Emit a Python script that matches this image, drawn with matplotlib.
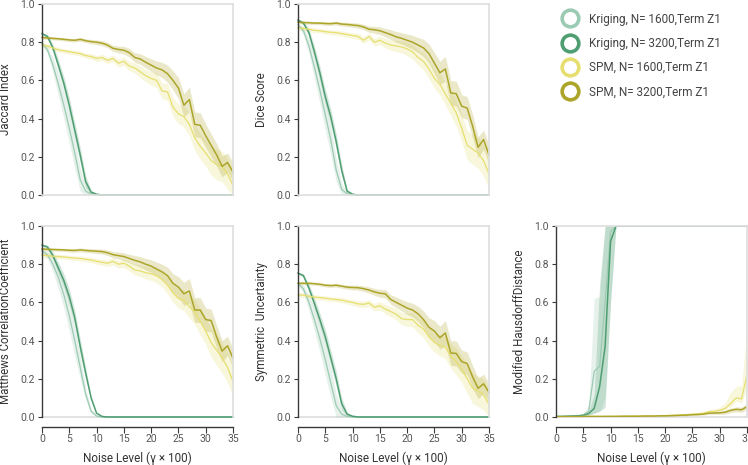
import numpy as np
import matplotlib
matplotlib.use("Agg")
import matplotlib.pyplot as plt
from matplotlib.lines import Line2D

plt.rcParams['font.family'] = ['Roboto', 'DejaVu Sans']

# Noise level (gamma x 100)
noise = np.arange(36)

# ---- Jaccard Index ----
jac_krig1600 = [0.795, 0.76, 0.68, 0.58, 0.47, 0.35, 0.22, 0.08, 0.02, 0.005] + [0.0] * 26
jac_krig3200 = [0.845, 0.83, 0.77, 0.68, 0.585, 0.47, 0.34, 0.21, 0.07, 0.015, 0.004] + [0.0] * 25
jac_spm1600 = [0.785, 0.78, 0.77, 0.76, 0.755, 0.75, 0.745, 0.74, 0.73, 0.725, 0.715, 0.72,
               0.705, 0.715, 0.69, 0.70, 0.675, 0.665, 0.645, 0.625, 0.61, 0.60, 0.545, 0.54,
               0.46, 0.425, 0.41, 0.37, 0.30, 0.255, 0.22, 0.18, 0.16, 0.15, 0.11, 0.05]
jac_spm3200 = [0.825, 0.822, 0.82, 0.818, 0.815, 0.812, 0.81, 0.815, 0.808, 0.803, 0.80, 0.795,
               0.785, 0.768, 0.762, 0.758, 0.745, 0.72, 0.712, 0.695, 0.68, 0.665, 0.655, 0.635,
               0.60, 0.56, 0.47, 0.50, 0.37, 0.365, 0.31, 0.26, 0.21, 0.15, 0.17, 0.12]

# ---- Dice Score ----
dice_krig1600 = [0.89, 0.86, 0.78, 0.67, 0.55, 0.42, 0.29, 0.13, 0.03, 0.006] + [0.0] * 26
dice_krig3200 = [0.916, 0.90, 0.85, 0.75, 0.64, 0.515, 0.41, 0.28, 0.13, 0.02, 0.004] + [0.0] * 25
dice_spm1600 = [0.876, 0.872, 0.868, 0.862, 0.86, 0.855, 0.852, 0.85, 0.845, 0.84, 0.835, 0.83,
                0.81, 0.83, 0.80, 0.81, 0.795, 0.785, 0.78, 0.775, 0.765, 0.75, 0.72, 0.70,
                0.66, 0.61, 0.58, 0.53, 0.48, 0.43, 0.35, 0.26, 0.24, 0.22, 0.18, 0.11]
dice_spm3200 = [0.905, 0.903, 0.902, 0.90, 0.90, 0.898, 0.897, 0.90, 0.895, 0.893, 0.89, 0.887,
                0.88, 0.868, 0.865, 0.86, 0.85, 0.84, 0.828, 0.82, 0.81, 0.80, 0.785, 0.77,
                0.74, 0.69, 0.64, 0.66, 0.535, 0.53, 0.465, 0.455, 0.36, 0.25, 0.29, 0.21]

# ---- Matthews Correlation Coefficient ----
mcc_krig1600 = [0.87, 0.85, 0.80, 0.73, 0.64, 0.53, 0.40, 0.26, 0.12, 0.03, 0.005] + [0.0] * 25
mcc_krig3200 = [0.90, 0.89, 0.845, 0.78, 0.715, 0.63, 0.52, 0.37, 0.23, 0.10, 0.02, 0.003] + [0.0] * 24
mcc_spm1600 = [0.848, 0.845, 0.842, 0.84, 0.838, 0.835, 0.832, 0.83, 0.826, 0.822, 0.815, 0.81,
               0.805, 0.815, 0.80, 0.805, 0.79, 0.77, 0.765, 0.755, 0.75, 0.74, 0.72, 0.69,
               0.65, 0.62, 0.612, 0.578, 0.55, 0.50, 0.45, 0.39, 0.35, 0.31, 0.26, 0.186]
mcc_spm3200 = [0.88, 0.878, 0.877, 0.876, 0.875, 0.873, 0.872, 0.875, 0.872, 0.87, 0.868, 0.866,
               0.86, 0.85, 0.845, 0.84, 0.83, 0.82, 0.812, 0.80, 0.79, 0.775, 0.76, 0.74,
               0.70, 0.68, 0.645, 0.66, 0.56, 0.56, 0.51, 0.505, 0.42, 0.345, 0.373, 0.308]

# ---- Symmetric Uncertainty ----
su_krig1600 = [0.70, 0.67, 0.60, 0.51, 0.41, 0.30, 0.18, 0.06, 0.015, 0.003] + [0.0] * 26
su_krig3200 = [0.753, 0.74, 0.675, 0.595, 0.51, 0.42, 0.31, 0.20, 0.07, 0.015, 0.004] + [0.0] * 25
su_spm1600 = [0.64, 0.638, 0.632, 0.628, 0.625, 0.622, 0.618, 0.615, 0.612, 0.605, 0.60, 0.592,
              0.59, 0.596, 0.575, 0.582, 0.565, 0.552, 0.538, 0.515, 0.51, 0.51, 0.48, 0.46,
              0.42, 0.39, 0.375, 0.365, 0.32, 0.29, 0.25, 0.20, 0.15, 0.135, 0.117, 0.065]
su_spm3200 = [0.70, 0.70, 0.70, 0.698, 0.695, 0.69, 0.688, 0.69, 0.685, 0.68, 0.678, 0.677,
              0.672, 0.665, 0.655, 0.648, 0.645, 0.615, 0.60, 0.585, 0.57, 0.56, 0.54, 0.51,
              0.47, 0.45, 0.415, 0.44, 0.335, 0.333, 0.29, 0.28, 0.21, 0.15, 0.174, 0.129]

# ---- Modified Hausdorff Distance ----
mhd_krig1600 = [0.003, 0.003, 0.004, 0.005, 0.007, 0.012, 0.03, 0.24, 0.265, 0.60, 0.97] + [1.0] * 25
mhd_krig3200 = [0.003, 0.003, 0.004, 0.005, 0.006, 0.008, 0.018, 0.045, 0.16, 0.37, 0.92] + [1.0] * 25
mhd_spm1600 = [0.002, 0.002, 0.002, 0.002, 0.002, 0.003, 0.003, 0.003, 0.003, 0.003, 0.004, 0.004,
               0.004, 0.004, 0.005, 0.005, 0.005, 0.006, 0.006, 0.007, 0.008, 0.009, 0.010, 0.012,
               0.013, 0.015, 0.017, 0.02, 0.028, 0.03, 0.035, 0.045, 0.07, 0.10, 0.095, 0.22]
mhd_spm3200 = [0.002, 0.002, 0.002, 0.002, 0.002, 0.002, 0.003, 0.003, 0.003, 0.003, 0.003, 0.003,
               0.004, 0.004, 0.004, 0.004, 0.005, 0.005, 0.005, 0.006, 0.006, 0.007, 0.008, 0.009,
               0.010, 0.012, 0.013, 0.015, 0.02, 0.021, 0.022, 0.025, 0.035, 0.04, 0.038, 0.054]

# ---- band half-widths (shared by the overlap metrics) ----
band_krig1600 = [0.01, 0.02, 0.04, 0.06, 0.07, 0.08, 0.08, 0.06, 0.03, 0.01, 0.005] + [0.0] * 25
band_krig3200 = [0.005, 0.01, 0.02, 0.03, 0.035, 0.04, 0.04, 0.04, 0.03, 0.01, 0.003] + [0.0] * 25
band_spm1600 = [0.012, 0.012, 0.012, 0.012, 0.012, 0.012, 0.012, 0.013, 0.013, 0.014, 0.015, 0.016,
                0.017, 0.018, 0.02, 0.022, 0.025, 0.027, 0.03, 0.032, 0.035, 0.038, 0.04, 0.045,
                0.05, 0.05, 0.055, 0.06, 0.065, 0.07, 0.07, 0.075, 0.08, 0.08, 0.08, 0.08]
band_spm3200 = [0.008, 0.008, 0.008, 0.008, 0.008, 0.009, 0.009, 0.01, 0.01, 0.011, 0.012, 0.013,
                0.014, 0.016, 0.018, 0.02, 0.022, 0.025, 0.028, 0.03, 0.033, 0.036, 0.04, 0.045,
                0.05, 0.055, 0.06, 0.065, 0.065, 0.065, 0.06, 0.06, 0.06, 0.055, 0.05, 0.05]

# Hausdorff bands (lower / upper)
mhd_krig1600_lo = [0.002, 0.002, 0.003, 0.004, 0.005, 0.008, 0.01, 0.02, 0.03, 0.10, 0.6] + [1.0] * 25
mhd_krig1600_hi = [0.004, 0.005, 0.006, 0.008, 0.012, 0.02, 0.06, 0.62, 0.63, 1.0, 1.0] + [1.0] * 25
mhd_krig3200_lo = [0.002, 0.002, 0.003, 0.004, 0.005, 0.006, 0.01, 0.02, 0.03, 0.05, 0.6] + [1.0] * 25
mhd_krig3200_hi = [0.004, 0.004, 0.005, 0.006, 0.008, 0.012, 0.03, 0.12, 0.7, 1.0, 1.0] + [1.0] * 25
mhd_spm1600_band = [0.001] * 20 + [0.002, 0.002, 0.003, 0.003, 0.004, 0.005, 0.006, 0.008,
                                   0.01, 0.012, 0.015, 0.03, 0.06, 0.06, 0.07, 0.23]
mhd_spm3200_band = [0.001] * 20 + [0.001, 0.002, 0.002, 0.002, 0.003, 0.003, 0.004, 0.005,
                                   0.006, 0.007, 0.008, 0.01, 0.012, 0.013, 0.013, 0.015]

labels = ["Kriging, N= 1600,Term Z1", "Kriging, N= 3200,Term Z1",
          "SPM, N= 1600,Term Z1", "SPM, N= 3200,Term Z1"]
colors = ["#9ccbb3", "#4f9e72", "#e6df70", "#aca52a"]

panels = [
    ("Jaccard Index", [jac_krig1600, jac_krig3200, jac_spm1600, jac_spm3200]),
    ("Dice Score", [dice_krig1600, dice_krig3200, dice_spm1600, dice_spm3200]),
    ("Matthews CorrelationCoefficient", [mcc_krig1600, mcc_krig3200, mcc_spm1600, mcc_spm3200]),
    ("Symmetric  Uncertainty", [su_krig1600, su_krig3200, su_spm1600, su_spm3200]),
]
bands = [band_krig1600, band_krig3200, band_spm1600, band_spm3200]

fig = plt.figure(figsize=(7.48, 4.65), dpi=100)

W, H = 191 / 748, 191 / 465
positions = [
    (42 / 748, 1 - 195 / 465),
    (298 / 748, 1 - 195 / 465),
    (42 / 748, 1 - 417 / 465),
    (298 / 748, 1 - 417 / 465),
    (556 / 748, 1 - 417 / 465),
]
frame_col = "#dedede"
dark = "#3a3a3a"


def style_axis(ax, ylabel, bottom_row):
    ax.set_xlim(0, 35)
    ax.set_ylim(0, 1)
    for s in ["top", "right"]:
        ax.spines[s].set_color(frame_col)
        ax.spines[s].set_linewidth(1.2)
    ax.spines["left"].set_color(dark)
    ax.spines["left"].set_linewidth(1.0)
    ax.set_yticks([0, 0.2, 0.4, 0.6, 0.8, 1.0])
    ax.set_yticklabels(["0.0", "0.2", "0.4", "0.6", "0.8", "1.0"])
    ax.tick_params(axis="y", length=3, width=0.8, color=dark, labelsize=7.5,
                   labelcolor="#555555", pad=2)
    ax.set_ylabel(ylabel, fontsize=8.3, color="#333333", labelpad=6)
    if bottom_row:
        ax.axhline(0, color=frame_col, lw=1.2, zorder=0.5, clip_on=False)
        ax.spines["bottom"].set_position(("outward", 7))
        ax.spines["bottom"].set_color(dark)
        ax.spines["bottom"].set_linewidth(1.0)
        ax.set_xticks(range(0, 36, 5))
        ax.tick_params(axis="x", length=4, width=0.8, color=dark, labelsize=7.5,
                       labelcolor="#555555", pad=1.5)
        ax.set_xlabel("Noise Level (γ × 100)", fontsize=8.5, color="#333333", labelpad=5)
    else:
        ax.spines["bottom"].set_color(frame_col)
        ax.spines["bottom"].set_linewidth(1.2)
        ax.set_xticks([])


line_widths = [0.9, 1.1, 0.9, 1.1]
for i, (ylabel, series) in enumerate(panels):
    ax = fig.add_axes([positions[i][0], positions[i][1], W, H])
    for vals, band, c, lw in zip(series, bands, colors, line_widths):
        v = np.array(vals)
        b = np.array(band)
        ax.fill_between(noise, np.clip(v - b, 0, 1), np.clip(v + b, 0, 1),
                        color=c, alpha=0.25, lw=0)
        ax.plot(noise, v, color=c, lw=lw, clip_on=False)
    style_axis(ax, ylabel, bottom_row=i >= 2)

# Hausdorff panel
ax = fig.add_axes([positions[4][0], positions[4][1], W, H])
mhd_series = [mhd_krig1600, mhd_krig3200, mhd_spm1600, mhd_spm3200]
mhd_lo = [mhd_krig1600_lo, mhd_krig3200_lo,
          np.array(mhd_spm1600) - np.array(mhd_spm1600_band) * 0.3,
          np.array(mhd_spm3200) - np.array(mhd_spm3200_band)]
mhd_hi = [mhd_krig1600_hi, mhd_krig3200_hi,
          np.array(mhd_spm1600) + np.array(mhd_spm1600_band),
          np.array(mhd_spm3200) + np.array(mhd_spm3200_band)]
for vals, lo, hi, c, lw in zip(mhd_series, mhd_lo, mhd_hi, colors, line_widths):
    ax.fill_between(noise, np.clip(lo, 0, 1), np.clip(hi, 0, 1), color=c, alpha=0.25, lw=0)
    ax.plot(noise, vals, color=c, lw=lw)
style_axis(ax, "Modified HausdorffDistance", bottom_row=True)

handles = [Line2D([], [], marker="o", linestyle="none", markerfacecolor="none",
                  markeredgecolor=c, markeredgewidth=2.6, markersize=12) for c in colors]
fig.legend(handles, labels, loc="upper left", bbox_to_anchor=(548 / 748, 1 - 2 / 465),
           frameon=False, fontsize=8.5, labelspacing=0.95, handletextpad=0.6,
           labelcolor="#444444")

fig.savefig("out.png", dpi=100)
